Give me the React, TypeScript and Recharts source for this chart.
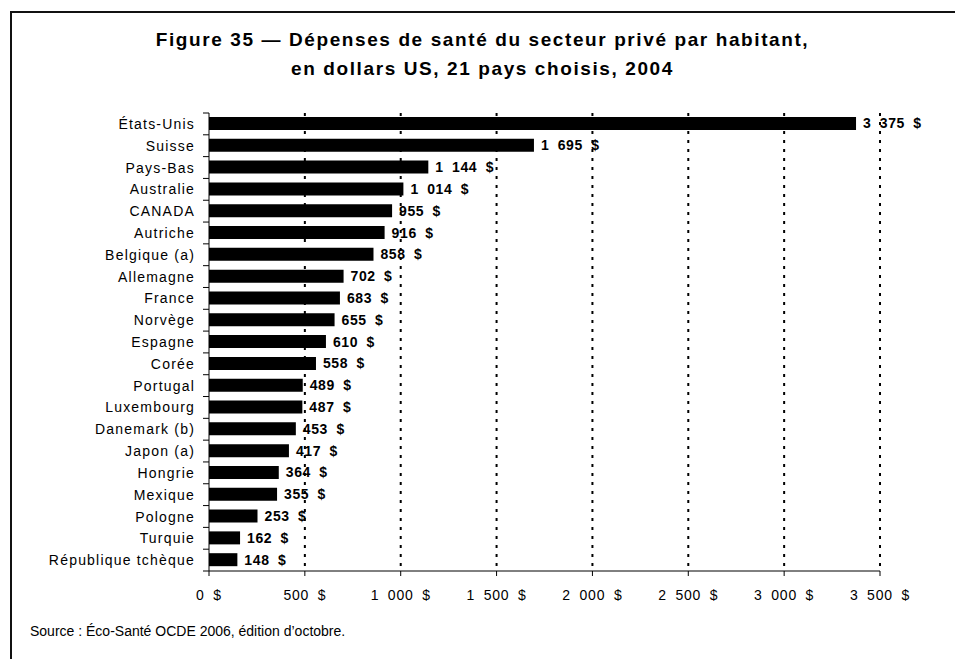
import React from "react";
import { BarChart, Bar, XAxis, YAxis, CartesianGrid, LabelList } from "recharts";

const pays = [
  "États-Unis", "Suisse", "Pays-Bas", "Australie", "CANADA", "Autriche", "Belgique (a)",
  "Allemagne", "France", "Norvège", "Espagne", "Corée", "Portugal", "Luxembourg",
  "Danemark (b)", "Japon (a)", "Hongrie", "Mexique", "Pologne", "Turquie", "République tchèque",
];
const depenses = [
  3375, 1695, 1144, 1014, 955, 916, 858, 702, 683, 655, 610, 558, 489, 487, 453, 417, 364, 355, 253, 162, 148,
];
const xTicks = [0, 500, 1000, 1500, 2000, 2500, 3000, 3500];

const data = pays.map((p, i) => ({ pays: p, valeur: depenses[i] }));

const W = 955;
const H = 659;
const TOP = 113;
const AXIS_Y = 571;
const Y_W = 209;
const X_H = 40;
const BAND = (AXIS_Y - TOP) / pays.length;

// montant avec espaces fines comme dans le rapport
function fmt(v: number) {
  return String(v).replace(/\B(?=(\d{3})+(?!\d))/g, "\u2007") + "\u2007$";
}

function PaysTick(props: any) {
  const { y, payload, index } = props;
  return (
    <g>
      <text x={Y_W - 14} y={y} dy="0.36em" textAnchor="end" fontSize={14} letterSpacing={1.2} fill="#000">
        {payload.value}
      </text>
      <line x1={Y_W - 6} x2={Y_W} y1={y - BAND / 2} y2={y - BAND / 2} stroke="#000" />
      {index === pays.length - 1 && (
        <line x1={Y_W - 6} x2={Y_W} y1={y + BAND / 2} y2={y + BAND / 2} stroke="#000" />
      )}
    </g>
  );
}

function MontantTick(props: any) {
  const { x, payload } = props;
  return (
    <g>
      <line x1={x} x2={x} y1={AXIS_Y} y2={AXIS_Y + 5} stroke="#000" />
      <text x={x} y={AXIS_Y + 29} textAnchor="middle" fontSize={14} letterSpacing={0.8} fill="#000">
        {fmt(payload.value)}
      </text>
    </g>
  );
}

export default function App() {
  return (
    <div
      style={{
        position: "absolute",
        left: 0,
        top: 0,
        width: W,
        height: H,
        background: "#fff",
        overflow: "hidden",
        fontFamily: "'Liberation Sans', Arial, sans-serif",
        color: "#000",
      }}
    >
      <div
        style={{
          position: "absolute",
          left: 10,
          top: 11,
          right: 0,
          bottom: 0,
          borderTop: "2px solid #111",
          borderLeft: "2px solid #111",
        }}
      />
      <div
        style={{
          position: "absolute",
          left: 10,
          width: W - 10,
          top: 26,
          textAlign: "center",
          fontWeight: "bold",
          fontSize: 19,
          lineHeight: "28.5px",
          letterSpacing: 1.6,
        }}
      >
        Figure 35 — Dépenses de santé du secteur privé par habitant,
        <br />
        en dollars US, 21 pays choisis, 2004
      </div>
      <div
        style={{
          position: "absolute",
          left: 30,
          top: 623,
          fontSize: 14,
          lineHeight: "16px",
        }}
      >
        Source : Éco-Santé OCDE 2006, édition d’octobre.
      </div>
      <div style={{ position: "absolute", left: 0, top: 0 }}>
        <BarChart
          width={W}
          height={H}
          data={data}
          layout="vertical"
          barSize={13}
          margin={{ top: TOP, right: 75, bottom: H - AXIS_Y - X_H, left: 0 }}
        >
          <CartesianGrid
            horizontal={false}
            verticalValues={xTicks.slice(1)}
            stroke="#000"
            strokeWidth={2}
            strokeDasharray="3 6"
          />
          <XAxis
            type="number"
            domain={[0, 3500]}
            ticks={xTicks}
            height={X_H}
            axisLine={{ stroke: "#000" }}
            tickLine={false}
            tick={<MontantTick />}
            interval={0}
          />
          <YAxis
            type="category"
            dataKey="pays"
            width={Y_W}
            axisLine={{ stroke: "#000" }}
            tickLine={false}
            tick={<PaysTick />}
            interval={0}
          />
          <Bar dataKey="valeur" fill="#000" isAnimationActive={false}>
            <LabelList
              dataKey="valeur"
              position="right"
              offset={7}
              formatter={(v: any) => fmt(Number(v))}
              style={{ fontWeight: "bold", fontSize: 14, fill: "#000", letterSpacing: 0.6 }}
            />
          </Bar>
        </BarChart>
      </div>
    </div>
  );
}
